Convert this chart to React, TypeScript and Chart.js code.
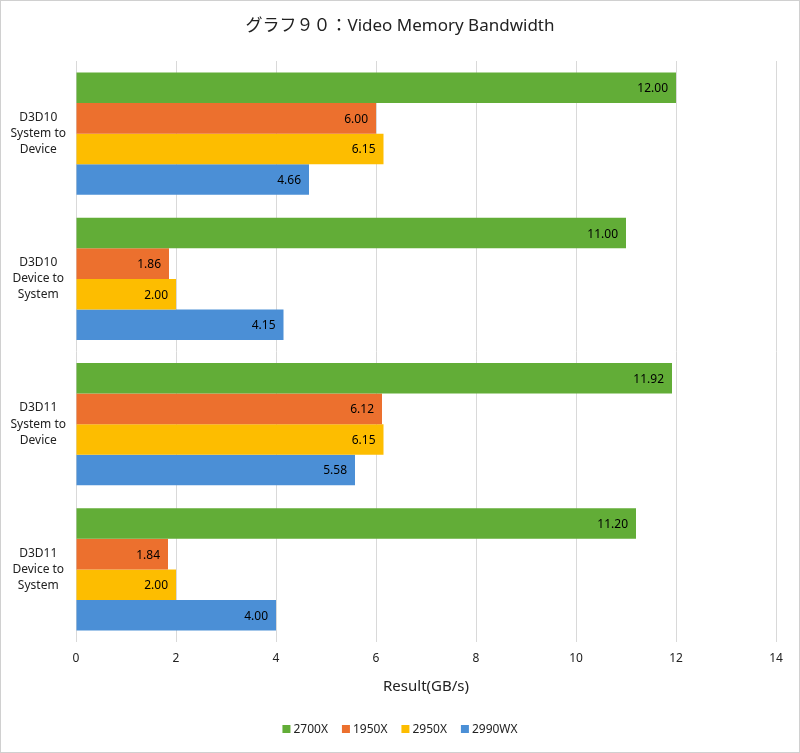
import React, { useEffect, useRef } from "react";
import { Chart, registerables } from "chart.js";

Chart.register(...registerables);

const categories: string[][] = [
  ["D3D10", "System to", "Device"],
  ["D3D10", "Device to", "System"],
  ["D3D11", "System to", "Device"],
  ["D3D11", "Device to", "System"],
];
const seriesNames = ["2700X", "1950X", "2950X", "2990WX"];
const s2700X = [12.0, 11.0, 11.92, 11.2];
const s1950X = [6.0, 1.86, 6.12, 1.84];
const s2950X = [6.15, 2.0, 6.15, 2.0];
const s2990WX = [4.66, 4.15, 5.58, 4.0];
const colors = ["#62ad37", "#ec702e", "#fdbd00", "#4b8fd6"];
const titleText = "グラフ９０：Video Memory Bandwidth";
const xTitle = "Result(GB/s)";

const FONT = "'Noto Sans', 'Noto Sans CJK JP', sans-serif";

const customPlugin = {
  id: "custom",
  afterDatasetsDraw(chart: any) {
    const ctx = chart.ctx;
    ctx.save();
    ctx.fillStyle = "#000";
    ctx.font = `12px ${FONT}`;
    ctx.textAlign = "right";
    ctx.textBaseline = "middle";
    chart.data.datasets.forEach((ds: any, i: number) => {
      const meta = chart.getDatasetMeta(i);
      meta.data.forEach((el: any, j: number) => {
        ctx.fillText(Number(ds.data[j]).toFixed(2), el.x - 8, el.y + 1);
      });
    });
    ctx.restore();
  },
  afterDraw(chart: any) {
    const ctx = chart.ctx;
    const W = chart.width;
    ctx.save();
    // title
    ctx.fillStyle = "#222";
    ctx.font = `17px ${FONT}`;
    ctx.textAlign = "center";
    ctx.textBaseline = "middle";
    ctx.fillText(titleText, W / 2, 26);
    // x axis title
    ctx.font = `15px ${FONT}`;
    ctx.fillStyle = "#222";
    const ca = chart.chartArea;
    ctx.fillText(xTitle, (ca.left + ca.right) / 2, 687);
    // legend
    ctx.font = `12px ${FONT}`;
    ctx.textAlign = "left";
    const box = 8;
    const gap = 3;
    const itemGap = 14;
    const widths = seriesNames.map((n) => box + gap + ctx.measureText(n).width);
    const total = widths.reduce((a, b) => a + b, 0) + itemGap * (seriesNames.length - 1);
    let x = W / 2 - total / 2;
    const y = 729;
    seriesNames.forEach((n, i) => {
      ctx.fillStyle = colors[i];
      ctx.fillRect(x, y - box / 2, box, box);
      ctx.fillStyle = "#222";
      ctx.fillText(n, x + box + gap, y + 1);
      x += widths[i] + itemGap;
    });
    // border
    ctx.strokeStyle = "#d0d0d0";
    ctx.lineWidth = 1;
    ctx.strokeRect(0.5, 0.5, W - 1, chart.height - 1);
    ctx.restore();
  },
};

export default function App() {
  const ref = useRef<HTMLCanvasElement | null>(null);
  useEffect(() => {
    if (!ref.current) return;
    const data = [s2700X, s1950X, s2950X, s2990WX];
    const chart = new Chart(ref.current, {
      type: "bar",
      data: {
        labels: categories,
        datasets: seriesNames.map((n, i) => ({
          label: n,
          data: data[i],
          backgroundColor: colors[i],
          borderWidth: 0,
          categoryPercentage: 0.84,
          barPercentage: 1.0,
        })),
      },
      options: {
        indexAxis: "y",
        responsive: false,
        animation: false,
        layout: { padding: { top: 61, right: 24, left: 0, bottom: 0 } },
        plugins: {
          legend: { display: false },
          title: { display: false },
          tooltip: { enabled: false },
        },
        scales: {
          x: {
            min: 0,
            max: 14,
            ticks: {
              stepSize: 2,
              padding: 9,
              color: "#222",
              font: { family: FONT, size: 12 },
            },
            grid: { color: "#d9d9d9", drawTicks: false },
            border: { display: false },
            afterFit: (scale: any) => {
              scale.height = 753 - 642;
            },
          },
          y: {
            ticks: {
              crossAlign: "center",
              padding: 10,
              color: "#222",
              font: { family: FONT, size: 12, lineHeight: 1.35 },
            },
            grid: { display: false, drawTicks: false },
            border: { display: false },
            afterFit: (scale: any) => {
              scale.width = 76;
            },
          },
        },
      },
      plugins: [customPlugin],
    } as any);
    return () => chart.destroy();
  }, []);
  return (
    <div style={{ position: "absolute", left: 0, top: 0, width: 800, height: 753, background: "#fff" }}>
      <canvas ref={ref} width={800} height={753} style={{ display: "block" }} />
    </div>
  );
}
